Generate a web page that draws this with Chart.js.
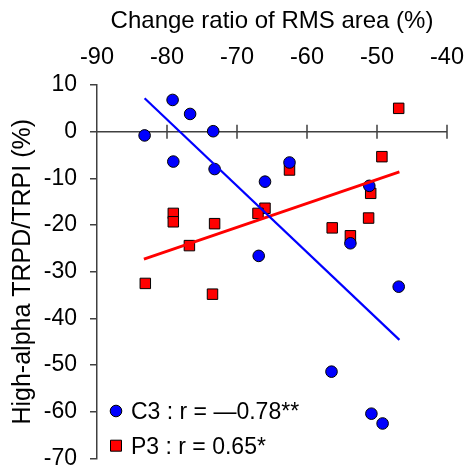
<!DOCTYPE html>
<html>
<head>
<meta charset="utf-8">
<script src="https://cdn.jsdelivr.net/npm/chart.js@4"></script>
<style>
html,body{margin:0;padding:0;background:#fff;}
#wrap{width:465px;height:469px;position:relative;}
</style>
</head>
<body>
<div id="wrap"><canvas id="c" width="465" height="469"></canvas></div>
<script>
// ---- data ----
const xTitle = 'Change ratio of RMS area (%)';
const yTitle = 'High-alpha TRPD/TRPI (%)';
const xTicks = [-90, -80, -70, -60, -50, -40];
const yTicks = [10, 0, -10, -20, -30, -40, -50, -60, -70];

const c3Label = 'C3 : r = \u20140.78**';
const c3X = [-83.2, -79.2, -76.7, -73.4, -79.1, -73.2, -62.5, -66.0, -66.9, -51.1, -53.8, -46.9, -56.5, -50.8, -49.2];
const c3Y = [-0.8, 6.8, 3.8, 0.1, -6.4, -8.0, -6.6, -10.7, -26.6, -11.6, -23.9, -33.2, -51.4, -60.4, -62.5];
const c3FitX = [-83.2, -46.8];
const c3FitY = [7.15, -44.6];

const p3Label = 'P3 : r = 0.65*';
const p3X = [-49.3, -62.5, -50.9, -79.1, -79.1, -73.2, -66.0, -67.0, -51.2, -56.4, -53.8, -76.8, -83.1, -73.5, -46.9];
const p3Y = [-5.35, -8.2, -13.2, -17.5, -19.3, -19.7, -16.4, -17.5, -18.5, -20.6, -22.3, -24.4, -32.5, -34.8, 5.0];
const p3FitX = [-83.3, -46.8];
const p3FitY = [-27.3, -8.6];

const pts = (xs, ys) => xs.map((x, i) => ({x: x, y: ys[i]}));

const FONT = '"Liberation Sans", Arial, sans-serif';
const AXIS = '#404040';

// zero line with crossing ticks, drawn through the x / y scales
const zeroAxis = {
  id: 'zeroAxis',
  beforeDatasetsDraw(chart) {
    const xs = chart.scales.x, ys = chart.scales.y, ctx = chart.ctx;
    const y0 = ys.getPixelForValue(0);
    ctx.save();
    ctx.strokeStyle = AXIS;
    ctx.lineWidth = 1.5;
    ctx.beginPath();
    ctx.moveTo(xs.left, y0);
    ctx.lineTo(xs.right, y0);
    xs.ticks.forEach(t => {
      if (t.value === xs.min) return;
      const px = xs.getPixelForValue(t.value);
      ctx.moveTo(px, y0 - 7);
      ctx.lineTo(px, y0 + 7);
    });
    ctx.stroke();
    ctx.restore();
  }
};

// legend inside the plot area, bottom-left
const innerLegend = {
  id: 'innerLegend',
  afterDatasetsDraw(chart) {
    const ctx = chart.ctx, a = chart.chartArea;
    const items = [
      {ds: chart.data.datasets[2], dy: -47.5},
      {ds: chart.data.datasets[3], dy: -12.8}
    ];
    ctx.save();
    items.forEach(it => {
      const cx = a.left + 19, cy = a.bottom + it.dy;
      ctx.fillStyle = it.ds.backgroundColor;
      ctx.strokeStyle = '#000';
      ctx.lineWidth = 1;
      ctx.beginPath();
      if (it.ds.pointStyle === 'rect') {
        ctx.rect(cx - 5.5, cy - 5.5, 11, 11);
      } else {
        ctx.arc(cx, cy, 5.8, 0, Math.PI * 2);
      }
      ctx.fill();
      ctx.stroke();
      ctx.fillStyle = '#000';
      ctx.font = '23px ' + FONT;
      ctx.textBaseline = 'middle';
      ctx.textAlign = 'left';
      ctx.fillText(it.ds.label, cx + 15, cy + 1.5);
    });
    ctx.restore();
  }
};

new Chart(document.getElementById('c'), {
  type: 'scatter',
  data: {
    datasets: [
      {label: 'C3 fit', data: pts(c3FitX, c3FitY), showLine: true, borderColor: '#0000ff', borderWidth: 2.2, pointRadius: 0, order: 0},
      {label: 'P3 fit', data: pts(p3FitX, p3FitY), showLine: true, borderColor: '#ff0000', borderWidth: 2.8, pointRadius: 0, order: 1},
      {label: c3Label, data: pts(c3X, c3Y), pointStyle: 'circle', pointRadius: 5.8, backgroundColor: '#0000ff', borderColor: '#000', borderWidth: 1, order: 2},
      {label: p3Label, data: pts(p3X, p3Y), pointStyle: 'rect', pointRadius: 7.4, backgroundColor: '#ff0000', borderColor: '#000', borderWidth: 1, order: 3}
    ]
  },
  options: {
    responsive: false,
    animation: false,
    layout: {padding: {left: 0, top: 0, right: 18, bottom: 10.5}},
    plugins: {legend: {display: false}, tooltip: {enabled: false}},
    scales: {
      x: {
        type: 'linear', position: 'top',
        min: xTicks[0], max: xTicks[xTicks.length - 1],
        afterBuildTicks: s => { s.ticks = xTicks.map(v => ({value: v})); },
        ticks: {color: '#000', font: {size: 23.5, family: FONT}, padding: 5, maxRotation: 0},
        grid: {display: false},
        border: {display: false},
        title: {display: true, text: xTitle, color: '#000', font: {size: 24, family: FONT}, padding: {top: 7, bottom: 0}},
        afterFit: s => { s.height = 85; s.paddingLeft = 0; s.paddingRight = 0; }
      },
      y: {
        type: 'linear', position: 'left',
        min: yTicks[yTicks.length - 1], max: yTicks[0],
        afterBuildTicks: s => { s.ticks = yTicks.slice().reverse().map(v => ({value: v})); },
        ticks: {color: '#000', font: {size: 23, family: FONT}, padding: 13},
        grid: {display: true, drawOnChartArea: false, drawTicks: true, tickLength: 7, color: AXIS, lineWidth: 1.5},
        border: {display: true, color: AXIS, width: 1.5},
        title: {display: true, text: yTitle, color: '#000', font: {size: 25, family: FONT}, padding: {top: 8, bottom: 0}},
        afterFit: s => { s.width = 97; s.paddingTop = 0; s.paddingBottom = 0; }
      }
    }
  },
  plugins: [zeroAxis, innerLegend]
});
</script>
</body>
</html>
